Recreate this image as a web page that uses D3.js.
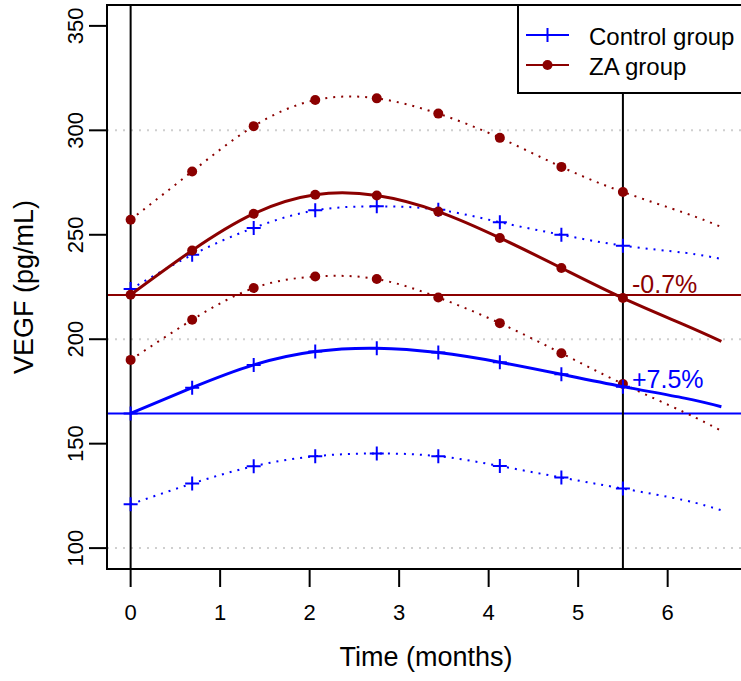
<!DOCTYPE html>
<html lang="en">
<head>
    <meta charset="UTF-8">
    <title>VEGF over time</title>
    <script src="https://d3js.org/d3.v7.min.js"></script>
    <style>
        body { margin: 0; background: #fff; }
        text { font-family: "Liberation Sans", Arial, sans-serif; }
    </style>
</head>
<body>
    <div id="chart"></div>
    <script>
        // Data
        const months = [0, 0.6875, 1.375, 2.0625, 2.75, 3.4375, 4.125, 4.8125, 5.5, 6.1875, 6.6];
        const markerCount = 9; // markers drawn on the first 9 time points only

        const controlMean  = [164.5, 176.8, 187.7, 194.1, 195.7, 193.6, 189.0, 183.2, 177.3, 171.8, 167.7];
        const controlUpper = [224.0, 240.4, 253.3, 261.7, 263.6, 262.0, 256.0, 250.0, 244.8, 241.4, 238.4];
        const controlLower = [121.0, 130.9, 139.2, 144.0, 145.3, 144.0, 139.3, 133.8, 128.5, 122.9, 118.1];

        const zaMean  = [221.3, 242.5, 260.1, 269.2, 268.8, 261.1, 248.5, 234.1, 219.7, 206.9, 199.0];
        const zaUpper = [257.2, 280.3, 302.0, 314.5, 315.3, 308.0, 296.4, 282.5, 270.5, 260.5, 253.7];
        const zaLower = [190.1, 209.3, 224.5, 230.0, 228.8, 220.0, 207.7, 193.3, 178.6, 165.0, 156.1];

        const baselines = [164.5, 221.2];          // control, ZA
        const refMonths = [0, 5.5];
        const changeLabels = ["+7.5%", "-0.7%"];   // control, ZA
        const xTicks = [0, 1, 2, 3, 4, 5, 6];
        const yTicks = [100, 150, 200, 250, 300, 350];
        const gridValues = [100, 200, 300];
        const legendLabels = ["Control group", "ZA group"];

        const blue = "#0000FF";
        const red = "#8B0000";

        const width = 741, height = 681;
        const box = { left: 107, top: 5, right: 745, bottom: 569 };

        const svg = d3.select("#chart").append("svg")
            .attr("width", width)
            .attr("height", height);

        const x = d3.scaleLinear().domain([-0.264, 6.864]).range([box.left, box.right]);
        const y = d3.scaleLinear().domain([90, 360]).range([box.bottom, box.top]);

        svg.append("clipPath").attr("id", "plot")
            .append("rect")
            .attr("x", box.left).attr("y", box.top)
            .attr("width", box.right - box.left).attr("height", box.bottom - box.top);

        const plot = svg.append("g").attr("clip-path", "url(#plot)");

        // grey dotted grid
        plot.selectAll(".grid")
            .data(gridValues)
            .enter().append("line")
            .attr("x1", box.left).attr("x2", box.right)
            .attr("y1", d => y(d)).attr("y2", d => y(d))
            .attr("stroke", "#cfcfcf")
            .attr("stroke-width", 2)
            .attr("stroke-dasharray", "2,6");

        // baseline reference lines
        plot.selectAll(".base")
            .data(baselines)
            .enter().append("line")
            .attr("x1", box.left).attr("x2", box.right)
            .attr("y1", d => y(d)).attr("y2", d => y(d))
            .attr("stroke", (d, i) => i === 0 ? blue : red)
            .attr("stroke-width", 2);

        // vertical reference lines
        plot.selectAll(".vref")
            .data(refMonths)
            .enter().append("line")
            .attr("x1", d => x(d)).attr("x2", d => x(d))
            .attr("y1", box.top).attr("y2", box.bottom)
            .attr("stroke", "#000")
            .attr("stroke-width", 2);

        const line = d3.line()
            .x((d, i) => x(months[i]))
            .y(d => y(d))
            .curve(d3.curveNatural);

        const series = [
            { values: controlUpper, color: blue, dotted: true, mark: "plus" },
            { values: controlLower, color: blue, dotted: true, mark: "plus" },
            { values: zaUpper, color: red, dotted: true, mark: "dot" },
            { values: zaLower, color: red, dotted: true, mark: "dot" },
            { values: controlMean, color: blue, dotted: false, mark: "plus" },
            { values: zaMean, color: red, dotted: false, mark: "dot" }
        ];

        series.forEach(s => {
            plot.append("path")
                .attr("d", line(s.values))
                .attr("fill", "none")
                .attr("stroke", s.color)
                .attr("stroke-width", s.dotted ? 2 : 3)
                .attr("stroke-dasharray", s.dotted ? "2,6" : null);

            const pts = s.values.slice(0, markerCount);
            if (s.mark === "dot") {
                plot.append("g").selectAll("circle")
                    .data(pts)
                    .enter().append("circle")
                    .attr("cx", (d, i) => x(months[i]))
                    .attr("cy", d => y(d))
                    .attr("r", 5)
                    .attr("fill", s.color);
            } else {
                plot.append("g").selectAll("path")
                    .data(pts)
                    .enter().append("path")
                    .attr("d", (d, i) => {
                        const cx = x(months[i]), cy = y(d);
                        return `M${cx - 7},${cy}H${cx + 7}M${cx},${cy - 7}V${cy + 7}`;
                    })
                    .attr("stroke", s.color)
                    .attr("stroke-width", 2);
            }
        });

        // percentage change labels
        svg.selectAll(".chg")
            .data(changeLabels)
            .enter().append("text")
            .attr("x", 632)
            .attr("y", (d, i) => i === 0 ? 388 : 293)
            .attr("font-size", 25)
            .attr("fill", (d, i) => i === 0 ? blue : red)
            .text(d => d);

        // box
        svg.append("rect")
            .attr("x", box.left).attr("y", box.top)
            .attr("width", box.right - box.left).attr("height", box.bottom - box.top)
            .attr("fill", "none")
            .attr("stroke", "#000")
            .attr("stroke-width", 2);

        // x axis ticks
        const xAxis = svg.append("g");
        xAxis.selectAll("line")
            .data(xTicks)
            .enter().append("line")
            .attr("x1", d => x(d)).attr("x2", d => x(d))
            .attr("y1", box.bottom).attr("y2", box.bottom + 18)
            .attr("stroke", "#000")
            .attr("stroke-width", 2);
        xAxis.selectAll("text")
            .data(xTicks)
            .enter().append("text")
            .attr("x", d => x(d))
            .attr("y", 620)
            .attr("text-anchor", "middle")
            .attr("font-size", 22)
            .text(d => d);

        // y axis ticks
        const yAxis = svg.append("g");
        yAxis.selectAll("line")
            .data(yTicks)
            .enter().append("line")
            .attr("x1", box.left - 18).attr("x2", box.left)
            .attr("y1", d => y(d)).attr("y2", d => y(d))
            .attr("stroke", "#000")
            .attr("stroke-width", 2);
        yAxis.selectAll("text")
            .data(yTicks)
            .enter().append("text")
            .attr("transform", d => `translate(83,${y(d)}) rotate(-90)`)
            .attr("text-anchor", "middle")
            .attr("font-size", 22)
            .text(d => d);

        // axis titles
        svg.append("text")
            .attr("x", (box.left + box.right) / 2)
            .attr("y", 666)
            .attr("text-anchor", "middle")
            .attr("font-size", 27)
            .text("Time (months)");

        svg.append("text")
            .attr("transform", `translate(33,${(box.top + box.bottom) / 2}) rotate(-90)`)
            .attr("text-anchor", "middle")
            .attr("font-size", 27)
            .text("VEGF (pg/mL)");

        // legend
        const legend = svg.append("g");
        legend.append("rect")
            .attr("x", 518).attr("y", box.top)
            .attr("width", box.right - 518).attr("height", 88)
            .attr("fill", "#fff")
            .attr("stroke", "#000")
            .attr("stroke-width", 2);

        legendLabels.forEach((label, i) => {
            const ly = 35 + i * 30;
            const color = i === 0 ? blue : red;
            legend.append("line")
                .attr("x1", 526).attr("x2", 569)
                .attr("y1", ly).attr("y2", ly)
                .attr("stroke", color)
                .attr("stroke-width", 2);
            if (i === 0) {
                legend.append("path")
                    .attr("d", `M540,${ly}H555M547.5,${ly - 7}V${ly + 7}`)
                    .attr("stroke", color)
                    .attr("stroke-width", 2);
            } else {
                legend.append("circle")
                    .attr("cx", 547.5).attr("cy", ly)
                    .attr("r", 5)
                    .attr("fill", color);
            }
            legend.append("text")
                .attr("x", 589)
                .attr("y", ly + 10)
                .attr("font-size", 24)
                .text(label);
        });
    </script>
</body>
</html>
